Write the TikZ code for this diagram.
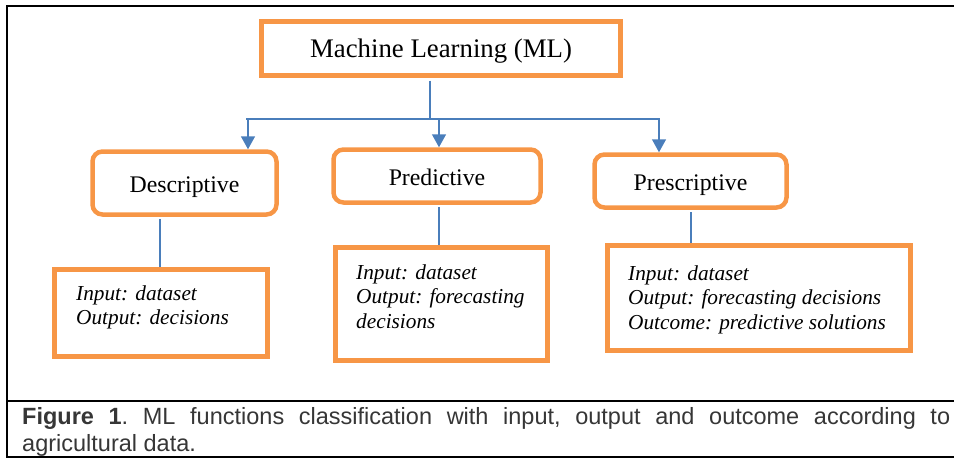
\documentclass[tikz,border=0pt]{standalone}
\usepackage{fontspec}
\setmainfont{Liberation Serif}
\newfontfamily\capfont{Liberation Sans}
\usetikzlibrary{arrows.meta}
\definecolor{boxorange}{HTML}{F79646}
\definecolor{linkblue}{HTML}{4A7EBB}
\definecolor{captext}{HTML}{363636}
\tikzset{
  mlbox/.style={draw=boxorange, line width=5pt, rectangle, inner sep=0pt,
    font=\fontsize{26.8}{30}\selectfont, text height=17pt, text depth=0pt},
  kindbox/.style={draw=boxorange, line width=4.5pt, rectangle, rounded corners=10pt, inner sep=0pt,
    font=\fontsize{23.8}{28}\selectfont, text height=18pt, text depth=0pt},
  infobox/.style={draw=boxorange, line width=5pt, rectangle, inner sep=0pt},
  infotext/.style={anchor=north west, inner sep=0pt, align=left,
    font=\fontsize{21.3}{24.5}\selectfont\itshape},
  link/.style={draw=linkblue, line width=1.5pt},
  arrowlink/.style={link, -{Triangle[width=14pt,length=13pt]}},
  frameline/.style={line width=2pt, black},
  captiontext/.style={anchor=base west, inner sep=0pt, text=captext,
    font=\capfont\fontsize{23.5}{27}\selectfont\frenchspacing},
}
\begin{document}
\begin{tikzpicture}[x=1pt,y=-1pt]
\useasboundingbox (0,0) rectangle (954,458);

% frame
\draw[frameline] (954,6) -- (7,6) -- (7,458);
\draw[frameline] (7,401) -- (954,401);
\draw[frameline] (7,457) -- (954,457);

% boxes
\node[mlbox, minimum width=359pt, minimum height=54pt] (ml) at (441,48.5) {Machine Learning (ML)};
\node[kindbox, minimum width=184pt, minimum height=63pt] (desc) at (184.5,183) {Descriptive};
\node[kindbox, minimum width=207pt, minimum height=53pt] (pred) at (437,176) {Predictive};
\node[kindbox, minimum width=192pt, minimum height=53pt] (presc) at (690.5,181) {Prescriptive};

\node[infobox, minimum width=213pt, minimum height=87pt] (b1) at (161,313) {};
\node[infobox, minimum width=212pt, minimum height=113pt] (b2) at (441.5,304) {};
\node[infobox, minimum width=303pt, minimum height=105pt] (b3) at (759,298) {};

\node[infotext] (t1) at (76,285.5) {Input: dataset\\Output: decisions};
\node[infotext] (t2) at (356,264.5) {Input: dataset\\Output: forecasting\\decisions};
\node[infotext] (t3) at (628,265.5) {Input: dataset\\Output: forecasting decisions\\Outcome: predictive solutions};

% connectors
\coordinate (split) at (430,119);
\coordinate (busL) at (246,119);
\coordinate (busR) at (660,119);
\coordinate (a1) at (248,119);
\coordinate (a2) at (439,119);
\coordinate (a3) at (659,119);
\coordinate (d1) at (160,240);
\coordinate (d2) at (439,230);
\coordinate (d3) at (691,230);

\draw[link, shorten <=2.5pt] (ml.south -| split) -- (split);
\draw[link] (busL) -- (busR);
\draw[arrowlink] (a1) -- (a1 |- desc.north);
\draw[arrowlink] (a2) -- (a2 |- pred.north);
\draw[arrowlink] (a3) -- (a3 |- presc.north);

\draw[link, shorten <=2.5pt] (desc.south -| d1) -- (b1.north -| d1);
\draw[link, shorten <=2.5pt] (pred.south -| d2) -- (b2.north -| d2);
\draw[link, shorten <=2.5pt] (presc.south -| d3) -- (b3.north -| d3);

% caption
\node[captiontext] (cap1) at (22,424) {\makebox[928pt][s]{\textbf{Figure 1}. ML functions classification with input, output and outcome according to}};
\node[captiontext] (cap2) at (22,451) {agricultural data.};
\end{tikzpicture}
\end{document}
